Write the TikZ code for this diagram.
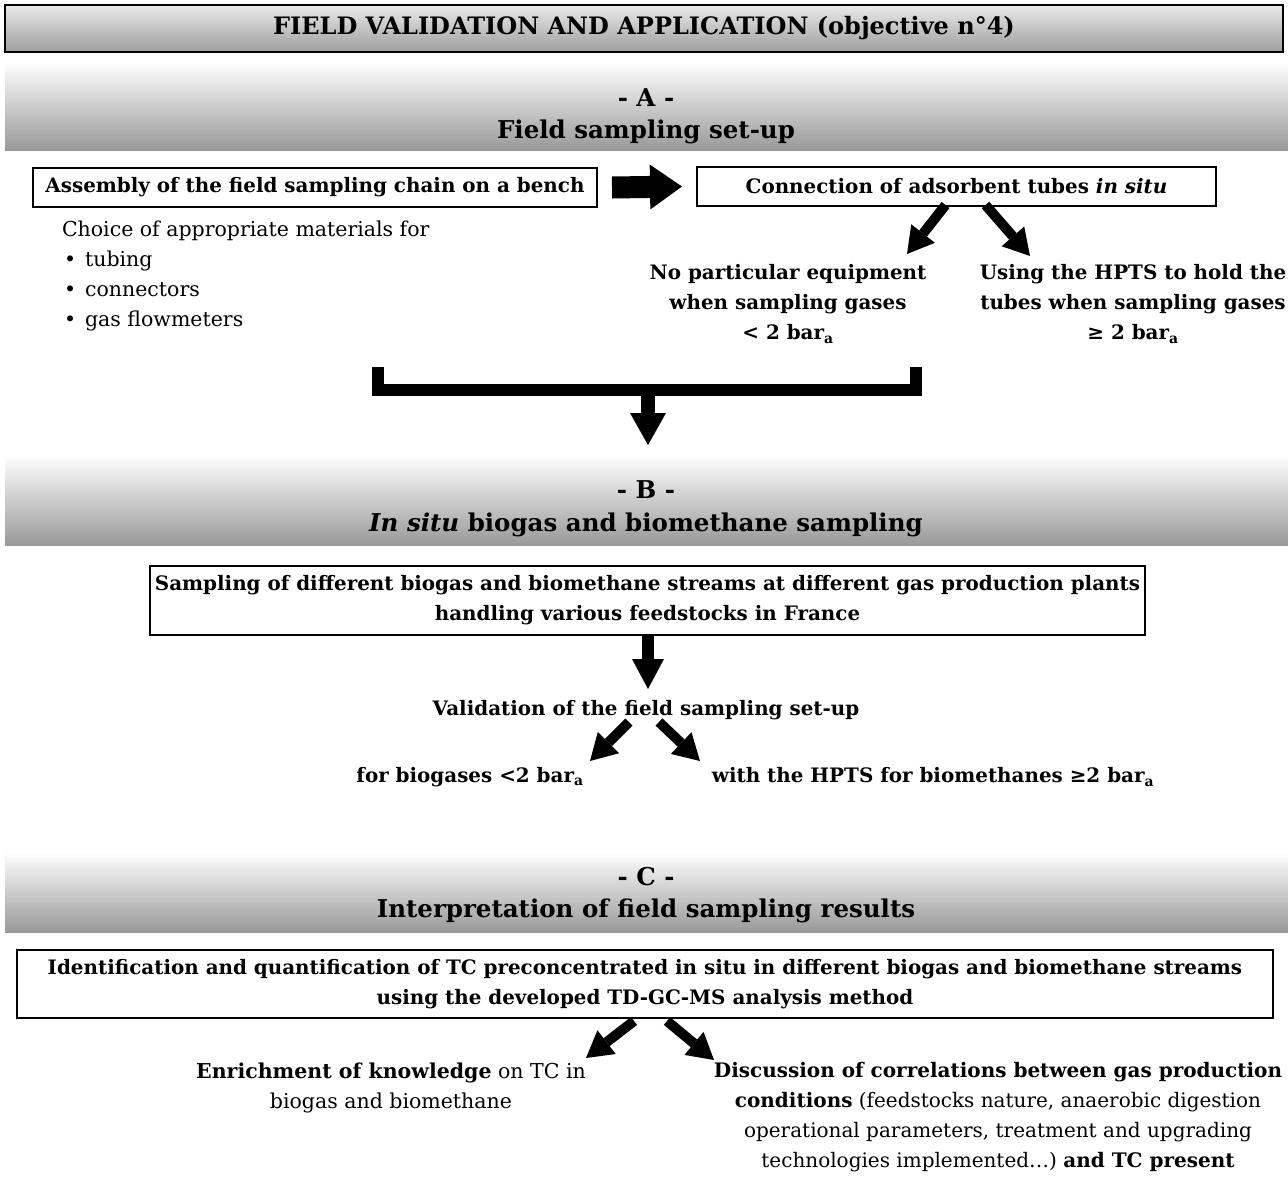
\documentclass[tikz,border=0pt]{standalone}
\usepackage{fontspec}
\setmainfont{DejaVu Serif}
\usetikzlibrary{arrows.meta}
\begin{document}
\begin{tikzpicture}[x=1pt,y=-1pt,
  every node/.style={inner sep=0pt, outer sep=0pt},
  txt/.style={font=\fontsize{20.5}{30}\selectfont, align=center},
  btxt/.style={font=\fontsize{19.9}{30}\selectfont\bfseries, align=center},
  hdr/.style={font=\fontsize{24.5}{34}\selectfont\bfseries, align=center},
  box/.style={draw=black, line width=1.2pt, fill=white},
  band/.style={top color=white, bottom color=black!40, draw=none},
  bigarrow/.style n args={3}{line width=#1, -{Triangle[width=#2,length=#3,line width=0pt]}},
]
\useasboundingbox (0,0) rectangle (1288,1176);
\fill[white] (0,0) rectangle (1288,1176);

% ---------- title ----------
\node[draw=black, line width=2pt, top color=black!8, bottom color=black!38,
      minimum width=1278pt, minimum height=47pt, hdr, font=\fontsize{24}{34}\selectfont\bfseries] (title) at (644,28)
      {FIELD VALIDATION AND APPLICATION (objective n°4)};

% ---------- section A ----------
\node[band, minimum width=1283pt, minimum height=88pt] (bandA) at (646.5,106) {};
\node[hdr] (Alab) at (646,98) {- A -};
\node[hdr] (Atit) at (646,132) {Field sampling set-up};

\node[box, btxt, minimum width=564pt, minimum height=39pt] (box1) at (315,187.5)
  {Assembly of the field sampling chain on a bench};
\node[box, btxt, minimum width=519pt, minimum height=39pt] (box2) at (956.5,186.5)
  {Connection of adsorbent tubes \textit{in situ}};

\node[txt, anchor=base west] (choice) at (62,236) {Choice of appropriate materials for};
\node[txt, anchor=base west] (b1) at (64,266) {•\hspace{9pt}tubing};
\node[txt, anchor=base west] (b2) at (64,296) {•\hspace{9pt}connectors};
\node[txt, anchor=base west] (b3) at (64,326) {•\hspace{9pt}gas flowmeters};

\node[btxt] (noeq) at (788,304) {No particular equipment\\when sampling gases\\< 2 bar\textsubscript{a}};
\node[btxt] (hpts) at (1133,304) {Using the HPTS to hold the\\tubes when sampling gases\\≥ 2 bar\textsubscript{a}};

\draw[bigarrow={22pt}{45pt}{32pt}] ([xshift=15pt]box1.east) -- ([xshift=-15pt]box2.west);
\coordinate (a1s) at ([xshift=-11pt,yshift=1pt]box2.south);
\coordinate (a1e) at (907,254);
\coordinate (a2s) at ([xshift=29pt,yshift=1pt]box2.south);
\coordinate (a2e) at (1030,256);
\draw[bigarrow={10pt}{30pt}{26pt}] (a1s) -- (a1e);
\draw[bigarrow={10pt}{30pt}{26pt}] (a2s) -- (a2e);

% bracket
\coordinate (brL) at (378,367);
\coordinate (brR) at (916,367);
\draw[line width=12pt, line join=miter] (brL) |- (647,390) -| (brR);
\coordinate (brM) at (648,396);
\coordinate (brT) at (648,445);
\draw[bigarrow={14pt}{36pt}{32pt}] (brM) -- (brT);

% ---------- section B ----------
\node[band, minimum width=1283pt, minimum height=90pt] (bandB) at (646.5,500) {};
\node[hdr] (Blab) at (646,490) {- B -};
\node[hdr] (Btit) at (646,525) {\textit{In situ} biogas and biomethane sampling};

\node[box, btxt, minimum width=995pt, minimum height=69pt] (box3) at (647.5,600.5)
  {Sampling of different biogas and biomethane streams at different gas production plants\\handling various feedstocks in France};

\node[btxt] (valid) at (646,710) {Validation of the field sampling set-up};
\coordinate (vs) at (648,636);
\coordinate (vt) at (648,689);
\draw[bigarrow={12pt}{32pt}{30pt}] (vs) -- (vt);

\node[btxt] (bio) at (470,777) {for biogases <2 bar\textsubscript{a}};
\node[btxt] (bme) at (933,777) {with the HPTS for biomethanes ≥2 bar\textsubscript{a}};
\coordinate (v1s) at (629,722);
\coordinate (v1e) at (590,761);
\coordinate (v2s) at (659,722);
\coordinate (v2e) at (700,761);
\draw[bigarrow={10pt}{30pt}{26pt}] (v1s) -- (v1e);
\draw[bigarrow={10pt}{30pt}{26pt}] (v2s) -- (v2e);

% ---------- section C ----------
\node[band, minimum width=1283pt, minimum height=80pt] (bandC) at (646.5,892) {};
\node[hdr] (Clab) at (646,877) {- C -};
\node[hdr] (Ctit) at (646,911) {Interpretation of field sampling results};

\node[box, btxt, minimum width=1256pt, minimum height=68pt] (box4) at (645,984)
  {Identification and quantification of TC preconcentrated in situ in different biogas and biomethane streams\\using the developed TD-GC-MS analysis method};

\node[txt] (enr) at (391,1088) {\textbf{Enrichment of knowledge} on TC in\\biogas and biomethane};
\node[txt, font=\fontsize{20}{30}\selectfont] (disc) at (998,1117) {\textbf{Discussion of correlations between gas production}\\\textbf{conditions} (feedstocks nature, anaerobic digestion\\operational parameters, treatment and upgrading\\technologies implemented…) \textbf{and TC present}};
\coordinate (c1s) at (634,1021);
\coordinate (c1e) at (586,1058);
\coordinate (c2s) at (667,1021);
\coordinate (c2e) at (714,1060);
\draw[bigarrow={10pt}{30pt}{26pt}] (c1s) -- (c1e);
\draw[bigarrow={10pt}{30pt}{26pt}] (c2s) -- (c2e);
\end{tikzpicture}
\end{document}
